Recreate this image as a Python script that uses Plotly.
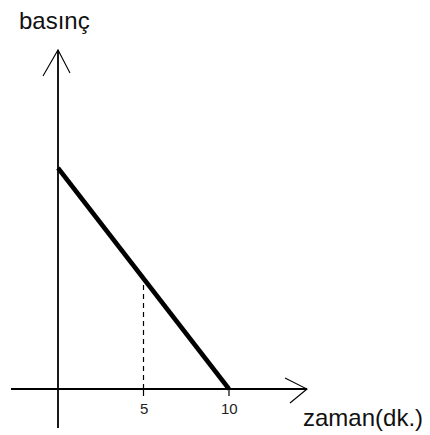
import plotly.graph_objects as go

# values (pressure axis has no scale, units are arbitrary)
time_min = [0, 10]
pressure = [13, 0]
guide_time = [5, 5]
guide_pressure = [0, 6.6]
tick_vals = [5, 10]
tick_text = ["5", "10"]

W, H = 430, 435
PX_X = 17.1          # pixels per minute
PX_Y = 17.0          # pixels per pressure unit
OX, OY = 58, 389     # where the two axes cross, in pixels


def dx(px):
    return (px - OX) / PX_X


def dy(py):
    return (OY - py) / PX_Y


fig = go.Figure()

# pressure drops linearly to zero at 10 min
fig.add_trace(go.Scatter(
    x=time_min, y=pressure, mode="lines",
    line=dict(color="black", width=4.5),
    hoverinfo="skip", showlegend=False,
))

# dashed guide at t = 5
fig.add_trace(go.Scatter(
    x=guide_time, y=guide_pressure, mode="lines",
    line=dict(color="black", width=1.2, dash="5px,4px"),
    hoverinfo="skip", showlegend=False,
))

axis_line = dict(color="black", width=1.8)
arrow_line = dict(color="black", width=1.1)

shapes = [
    # x axis and its open arrow head
    dict(type="line", x0=dx(11), y0=0, x1=dx(307), y1=0, line=axis_line),
    dict(type="path", path=f"M {dx(285)},{dy(378)} L {dx(307)},0 L {dx(290)},{dy(403)}",
         line=arrow_line),
    # y axis and its open arrow head
    dict(type="line", x0=0, y0=dy(428), x1=0, y1=dy(50), line=axis_line),
    dict(type="path", path=f"M {dx(43)},{dy(76)} L 0,{dy(50)} L {dx(70)},{dy(73)}",
         line=arrow_line),
]
# small tick marks below the x axis
for t in tick_vals:
    shapes.append(dict(type="line", x0=t, y0=0, x1=t, y1=dy(396), line=dict(color="black", width=1.2)))

annotations = [
    dict(x=t, y=dy(408), text=s, showarrow=False, xanchor="center", yanchor="middle",
         font=dict(size=15, color="#222"))
    for t, s in zip(tick_vals, tick_text)
]
annotations += [
    dict(x=dx(54), y=dy(20), text="basınç", showarrow=False, xanchor="center", yanchor="middle",
         font=dict(size=24, color="#111")),
    dict(x=dx(363), y=dy(417), text="zaman(dk.)", showarrow=False, xanchor="center", yanchor="middle",
         font=dict(size=24, color="#111")),
]

fig.update_layout(
    width=W, height=H,
    margin=dict(l=0, r=0, t=0, b=0),
    paper_bgcolor="white", plot_bgcolor="white",
    font=dict(family="Liberation Sans, Arial, sans-serif"),
    shapes=shapes, annotations=annotations,
    xaxis=dict(range=[dx(0), dx(W)], visible=False, fixedrange=True),
    yaxis=dict(range=[dy(H), dy(0)], visible=False, fixedrange=True),
)

# the page body has a default 8px margin; drop it so the figure fills the window
fig.write_html("out.html", config={"displayModeBar": False},
               post_script="document.body.style.margin='0';")
